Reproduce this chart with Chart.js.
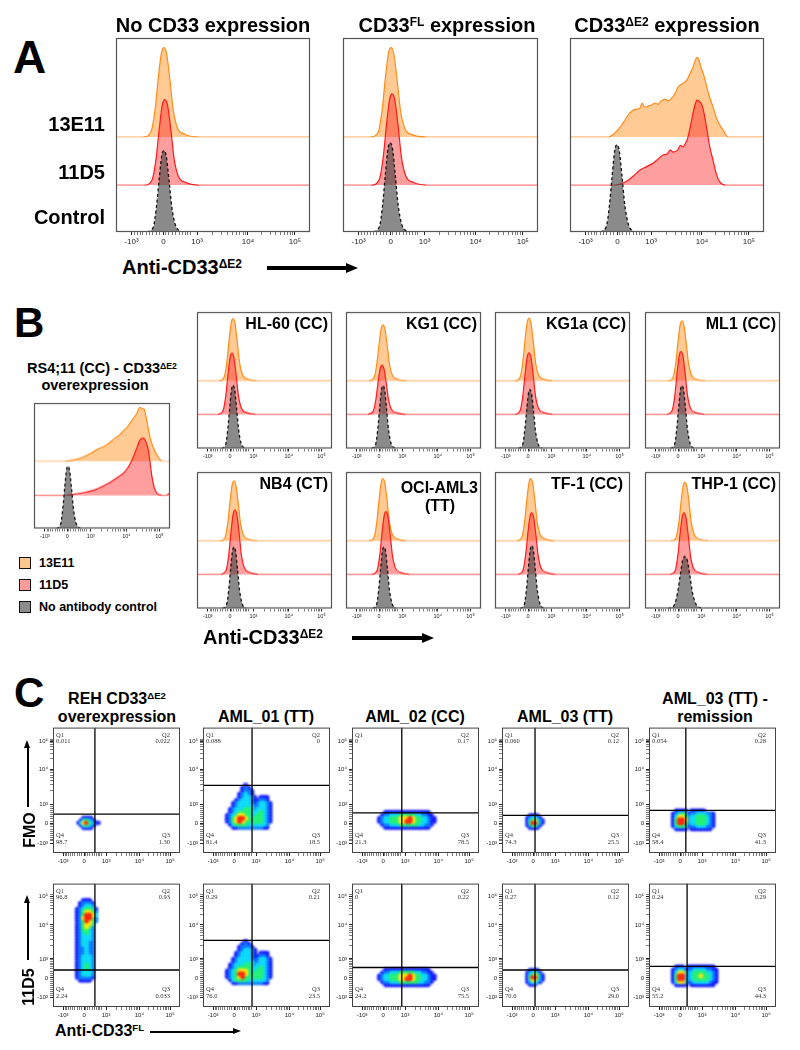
<!DOCTYPE html>
<html>
<head>
<meta charset="utf-8">
<title>CD33 flow cytometry</title>
<script src="https://cdn.jsdelivr.net/npm/chart.js@4.4.1/dist/chart.umd.min.js"></script>
<style>
  html, body { margin: 0; padding: 0; background: #fff; }
  body { position: relative; width: 800px; height: 1050px; overflow: hidden; font-family: "Liberation Sans", Arial, Helvetica, sans-serif; color: #000; }
  .t { position: absolute; font-weight: bold; white-space: nowrap; line-height: 1; }
  .t sup { font-size: 0.6em; vertical-align: baseline; position: relative; top: -0.48em; }
  .plot { position: absolute; }
  .bar { position: absolute; background: #000; }
  .head { position: absolute; width: 0; height: 0; }
  .sq { position: absolute; width: 10px; height: 10px; border: 1.5px solid #111; }
</style>
</head>
<body>
<script>
// ---------- axis ticks (display channels 0-1000, biexponential style) ----------
const tickPos = [80, 245, 418, 680, 922];
const tickPosY = [75, 236, 390, 665, 893];
const tickLbl = ['-10³', '0', '10³', '10⁴', '10⁵'];
const minorPos = [97, 110, 124, 139, 155, 172, 190, 208, 225, 255, 272, 290, 308, 325, 341, 356, 370, 383,
  497, 543, 576, 601, 622, 639, 655, 668, 752, 795, 824, 848, 867, 883, 897, 909];

// ---------- panel A : histograms, [channel, % of mode above the row baseline] ----------
const aTitles = ['No CD33 expression', 'CD33<sup>FL</sup> expression', 'CD33<sup>ΔE2</sup> expression'];
const aRowLabels = ['13E11', '11D5', 'Control'];
const a13E11 = [
  [[142,0],[181,2.8],[201,13.8],[218,30.4],[234,43.2],[247,46],[261,42.8],[278,29.4],[295,13.8],[317,4.6],[355,1.4],[422,0]],
  [[142,0],[181,2.6],[201,14.2],[218,31],[234,43.6],[247,46],[261,42.5],[278,29],[295,13.5],[317,4.4],[355,1.2],[422,0]],
  [[200,0],[225,1.5],[250,4],[273,7.2],[309,12.4],[335,14.2],[361,15],[372,17.5],[385,15.2],[405,16],[420,16.5],[440,17.5],[452,16.8],[470,18.5],[490,19.5],[505,18.6],[530,20.6],[545,23],[557,25.8],[580,27.5],[603,29.4],[620,33],[634,36],[648,40],[657,41],[665,39.5],[675,36],[686,33],[696,29.4],[715,22],[737,15.5],[760,8.5],[789,3.6],[814,0]]
];
const a11D5 = [
  [[147,0],[186,2.6],[206,13.2],[223,29],[239,41.4],[252,44],[266,40.9],[283,28.2],[300,13.2],[322,4.4],[360,1.3],[427,0]],
  [[147,0],[186,2.8],[206,14.1],[223,31],[239,44.2],[252,47],[266,43.7],[283,30.1],[300,14.1],[322,4.7],[360,1.4],[427,0]],
  [[230,0],[250,0.3],[273,1],[300,2.5],[330,5],[361,7.7],[395,9.5],[428,11.3],[455,13.5],[479,15.5],[500,16],[518,18],[531,17],[555,18],[570,20.5],[582,19.6],[598,22],[608,24.7],[620,30],[634,37],[645,41.5],[655,43.8],[668,43],[680,41.2],[693,36],[706,28.4],[720,20],[737,12.9],[755,5.5],[773,1.5],[800,0]]
];
const aControl = [
  [[162,0],[192,2.5],[208,12.6],[223,27.7],[236,39.5],[247,42],[259,39.1],[273,26.9],[288,12.6],[307,3.4],[337,0]],
  [[157,0],[187,2.8],[203,13.8],[218,30.4],[231,43.2],[242,46],[254,42.8],[268,29.4],[283,13.8],[302,3.7],[332,0]],
  [[157,0],[187,2.7],[203,13.5],[218,29.7],[231,42.3],[242,45],[254,41.9],[268,28.8],[283,13.5],[302,3.6],[332,0]]
];

// ---------- panel B ----------
const bBigOrange = [[228,0],[290,1],[360,3.2],[420,6.5],[485,10.4],[520,12],[559,15],[580,17],[603,19],[630,21],[655,24],[684,27],[710,31],[730,34],[755,38],[779,43],[795,42],[809,41.6],[830,32],[853,19],[880,10],[904,5],[925,1.5],[941,0]];
const bBigRed = [[240,0],[300,1],[380,2.5],[436,4],[500,7],[559,10.4],[610,14],[657,17.6],[690,22],[720,28],[750,36],[779,44],[804,45.6],[825,42],[841,36],[855,25],[868,14.4],[885,6],[904,1.6],[940,0],[975,0],[995,1.5]];
const bBigControl = [[165,0],[195,3],[211,14.9],[226,32.7],[239,46.6],[250,49.6],[262,46.1],[276,31.7],[291,14.9],[310,4],[340,0]];
const legendLabels = ['13E11', '11D5', 'No antibody control'];
const cellLines = ['HL-60 (CC)', 'KG1 (CC)', 'KG1a (CC)', 'ML1 (CC)', 'NB4 (CT)', 'OCI-AML3|(TT)', 'TF-1 (CC)', 'THP-1 (CC)'];
const b13E11 = [
  [[162,0],[201,2.7],[221,13.7],[238,30.1],[254,42.9],[267,45.6],[281,42.4],[298,29.2],[315,13.7],[337,4.6],[375,1.4],[442,0]],
  [[169,0],[208,2.5],[228,12.3],[245,27.1],[261,38.5],[274,41],[288,38.1],[305,26.2],[322,12.3],[344,4.1],[382,1.2],[449,0]],
  [[147,0],[186,2.8],[206,13.8],[223,30.4],[239,43.2],[252,46],[266,42.8],[283,29.4],[300,13.8],[322,4.6],[360,1.4],[427,0]],
  [[169,0],[208,2.6],[228,13.2],[245,29],[261,41.4],[274,44],[288,40.9],[305,28.2],[322,13.2],[344,4.4],[382,1.3],[449,0]],
  [[169,0],[208,2.6],[228,13.2],[245,29],[261,41.4],[274,44],[288,40.9],[305,28.2],[322,13.2],[344,4.4],[382,1.3],[449,0]],
  [[169,0],[208,2.7],[228,13.7],[245,30.1],[261,42.9],[274,45.6],[288,42.4],[305,29.2],[322,13.7],[344,4.6],[382,1.4],[449,0]],
  [[160,0],[199,2.7],[219,13.7],[236,30.1],[252,42.9],[265,45.6],[279,42.4],[296,29.2],[313,13.7],[335,4.6],[373,1.4],[440,0]],
  [[191,0],[230,2.6],[250,12.9],[267,28.4],[283,40.4],[296,43],[310,40],[327,27.5],[344,12.9],[366,4.3],[404,1.3],[471,0]]
];
const b11D5 = [
  [[154,0],[193,2.7],[213,13.5],[230,29.6],[246,42.2],[259,44.9],[273,41.8],[290,28.7],[307,13.5],[329,4.5],[367,1.3],[434,0]],
  [[162,0],[201,2.2],[221,10.8],[238,23.8],[254,33.8],[267,36],[281,33.5],[298,23],[315,10.8],[337,3.6],[375,1.1],[442,0]],
  [[147,0],[186,2.7],[206,13.5],[223,29.7],[239,42.3],[252,45],[266,41.9],[283,28.8],[300,13.5],[322,4.5],[360,1.4],[427,0]],
  [[162,0],[201,2.8],[221,13.8],[238,30.4],[254,43.2],[267,46],[281,42.8],[298,29.4],[315,13.8],[337,4.6],[375,1.4],[442,0]],
  [[176,0],[215,2.8],[235,14.1],[252,31],[268,44.2],[281,47],[295,43.7],[312,30.1],[329,14.1],[351,4.7],[389,1.4],[456,0]],
  [[191,0],[230,2.8],[250,13.8],[267,30.4],[283,43.2],[296,46],[310,42.8],[327,29.4],[344,13.8],[366,4.6],[404,1.4],[471,0]],
  [[167,0],[206,2.7],[226,13.5],[243,29.7],[259,42.3],[272,45],[286,41.9],[303,28.8],[320,13.5],[342,4.5],[380,1.4],[447,0]],
  [[184,0],[223,2.7],[243,13.5],[260,29.7],[276,42.3],[289,45],[303,41.9],[320,28.8],[337,13.5],[359,4.5],[397,1.4],[464,0]]
];
const bControl = [
  [[182,0],[212,2.8],[228,13.9],[243,30.6],[256,43.5],[267,46.3],[279,43.1],[293,29.6],[308,13.9],[327,3.7],[357,0]],
  [[189,0],[219,2.8],[235,13.8],[250,30.4],[263,43.2],[274,46],[286,42.8],[300,29.4],[315,13.8],[334,3.7],[364,0]],
  [[174,0],[204,2.6],[220,12.9],[235,28.4],[248,40.4],[259,43],[271,40],[285,27.5],[300,12.9],[319,3.4],[349,0]],
  [[189,0],[219,2.8],[235,13.8],[250,30.4],[263,43.2],[274,46],[286,42.8],[300,29.4],[315,13.8],[334,3.7],[364,0]],
  [[189,0],[219,2.7],[235,13.5],[250,29.7],[263,42.3],[274,45],[286,41.9],[300,28.8],[315,13.5],[334,3.6],[364,0]],
  [[196,0],[226,2.7],[242,13.5],[257,29.7],[270,42.3],[281,45],[293,41.9],[307,28.8],[322,13.5],[341,3.6],[371,0]],
  [[187,0],[217,2.8],[233,13.8],[248,30.4],[261,43.2],[272,46],[284,42.8],[298,29.4],[313,13.8],[332,3.7],[362,0]],
  [[171,0],[216,2.3],[241,11.4],[262,25.1],[280,35.7],[296,38],[313,35.3],[332,24.3],[352,11.4],[378,3],[421,0]]
];

// ---------- panel C : pseudocolor dot plots (plots 0-4 = FMO, 5-9 = 11D5) ----------
const cTitles = ['REH CD33<sup>ΔE2</sup>|overexpression', 'AML_01 (TT)', 'AML_02 (CC)', 'AML_03 (TT)', 'AML_03 (TT) -|remission'];
const cRowLabels = ['FMO', '11D5'];
const gateX = [330, 386, 392, 260, 290, 330, 386, 392, 260, 300];
const gateY = [310, 540, 320, 300, 340, 300, 540, 320, 300, 330];
const quadQ1 = ['0.011', '0.088', '0', '0.060', '0.054', '96.8', '0.29', '0', '0.27', '0.24'];
const quadQ2 = ['0.022', '0', '0.17', '0.12', '0.28', '0.93', '0.21', '0.22', '0.12', '0.29'];
const quadQ3 = ['1.30', '18.5', '78.5', '25.5', '41.3', '0.033', '23.5', '75.5', '29.0', '44.3'];
const quadQ4 = ['98.7', '81.4', '21.3', '74.3', '58.4', '2.24', '76.0', '24.2', '70.6', '55.2'];
// density grids: first cell centre (x, y), cell step, rows top -> bottom, digit = density level 1 (low) .. 6 (high)
const densOrigin = [[200,280],[192,540],[216,324],[200,300],[192,336],[192,864],[192,532],[216,300],[200,300],[192,324]];
const densStep = [20, 24, 24, 20, 24, 24, 24, 24, 20, 24];
const densRows = [
  ['..1111...', '.134321..', '135643211', '.134321..', '..1111...'],
  ['......1........', '.....121.......', '.....1221......', '....12321......', '....123321.111.',
   '...12333211221.', '..1233332123321', '..1233333223321', '.12333443233321', '.12344443334321',
   '123455443344321', '124566543444321', '124565443444321', '.1344443333332.', '..112222222211.'],
  ['..111111111111111..', '.12233344444332211.', '1233444555654433211', '1233444556654433211', '.12233344444433221.', '..111111111111111..'],
  ['.1111..', '123321.', '1345321', '1466421', '124421.', '.1111..'],
  ['.1111.11111...', '12343122333221', '13554233444321', '14665233444321', '14664233444321', '13443122333221', '.1111.1111111.'],
  ['..111..', '.12221.', '.12332.', '1234431', '1245542', '1246653', '1256642', '1246542', '124553.', '124542.',
   '124432.', '123432.', '123332.', '123332.', '123322.', '123322.', '122322.', '122322.', '122322.', '123332.',
   '123332.', '123332.', '123432.', '123432.', '123332.', '123332.', '122221.', '.1111..'],
  ['......1........', '.....121.......', '....12221......', '....123321.....', '...1233321.111.',
   '...12333211221.', '..1233332123321', '..1233333223321', '.12333443233321', '.12344443334321',
   '123455543344321', '123466543444321', '123456443444321', '.1344443333332.', '..112222222211.'],
  ['..111111111111111..', '.12233344444332211.', '1233444555654433211', '1233444556654433211', '.12233344444433221.', '..111111111111111..'],
  ['.1111..', '123321.', '1345421', '1466421', '1355321', '123321.', '.111...'],
  ['.111.111111111.', '123312233332211', '135532344443321', '146632344544321', '146632344444321', '135531233333211', '.1111.11111111.']
];
const jet = ['#0a10ff', '#0072ff', '#00d8f8', '#18f070', '#ffe600', '#ff1a00'];

// ---------- helpers ----------
Chart.defaults.font.family = '"Liberation Sans", Arial, sans-serif';
Chart.defaults.color = '#222';

function txt(html, x, y, size, align, extra) {
  const d = document.createElement('div');
  d.className = 't';
  d.innerHTML = html;
  const tx = align === 'l' ? '0' : align === 'r' ? '-100%' : '-50%';
  d.style.cssText = 'left:' + x + 'px;top:' + y + 'px;font-size:' + size + 'px;transform:translate(' + tx + ',-50%)' + (extra || '');
  document.body.appendChild(d);
}
function el(cls, css) {
  const d = document.createElement('div');
  d.className = cls;
  d.style.cssText = css;
  document.body.appendChild(d);
}
function hArrow(x1, x2, y, w, h) {
  el('bar', 'left:' + x1 + 'px;top:' + (y - w / 2) + 'px;width:' + (x2 - x1 - h + 1) + 'px;height:' + w + 'px');
  el('head', 'left:' + (x2 - h) + 'px;top:' + (y - h * 0.45) + 'px;border-left:' + h + 'px solid #000;border-top:' + (h * 0.45) + 'px solid transparent;border-bottom:' + (h * 0.45) + 'px solid transparent');
}
function vArrow(x, y1, y2, w, h) {
  el('bar', 'left:' + (x - w / 2) + 'px;top:' + (y2 + h - 1) + 'px;width:' + w + 'px;height:' + (y1 - y2 - h + 1) + 'px');
  el('head', 'left:' + (x - h * 0.45) + 'px;top:' + y2 + 'px;border-bottom:' + h + 'px solid #000;border-left:' + (h * 0.45) + 'px solid transparent;border-right:' + (h * 0.45) + 'px solid transparent');
}
function mkCanvas(left, top, w, h) {
  const wrap = document.createElement('div');
  wrap.className = 'plot';
  wrap.style.cssText = 'left:' + left + 'px;top:' + top + 'px;width:' + w + 'px;height:' + h + 'px';
  const cv = document.createElement('canvas');
  cv.width = w; cv.height = h;
  cv.style.width = w + 'px'; cv.style.height = h + 'px';
  wrap.appendChild(cv);
  document.body.appendChild(wrap);
  return cv;
}
function makeTicks(major) {
  const t = major.map((v, i) => ({ value: v, lbl: tickLbl[i] }));
  minorPos.forEach(v => t.push({ value: v, lbl: '' }));
  return t.sort((a, b) => a.value - b.value);
}
function axis(major, size, fit) {
  return {
    type: 'linear', min: 0, max: 1000,
    afterFit: fit,
    afterBuildTicks: s => { s.ticks = makeTicks(major); },
    ticks: { autoSkip: false, maxRotation: 0, padding: 2, font: { size: size }, color: '#222', callback: (v, i, t) => t[i].lbl },
    grid: { drawOnChartArea: false, tickLength: 3, color: '#222', tickWidth: c => (c.tick && c.tick.lbl ? 1 : 0.6) },
    border: { display: false }
  };
}

const framePlugin = {
  id: 'frame',
  afterDraw(chart, args, o) {
    const { ctx, chartArea: a } = chart;
    ctx.save();
    ctx.strokeStyle = o.color || '#555';
    ctx.lineWidth = o.width || 1;
    ctx.strokeRect(a.left + 0.5, a.top + 0.5, a.width - 1, a.height - 1);
    ctx.restore();
  }
};
const blurPlugin = {
  id: 'blur',
  beforeDatasetDraw(chart, args) {
    if (chart.data.datasets[args.index].blur) { chart.ctx.save(); chart.ctx.filter = 'blur(1.1px)'; }
  },
  afterDatasetDraw(chart, args) {
    if (chart.data.datasets[args.index].blur) { chart.ctx.restore(); }
  }
};
const quadPlugin = {
  id: 'quad',
  afterDraw(chart, args, o) {
    const { ctx, chartArea: a } = chart;
    ctx.save();
    ctx.fillStyle = '#333';
    ctx.font = '6.5px "Liberation Serif", serif';
    ctx.textBaseline = 'middle';
    ctx.textAlign = 'left';
    ctx.fillText('Q1', a.left + 3, a.top + 8);
    ctx.fillText(o.q[0], a.left + 3, a.top + 14);
    ctx.fillText('Q4', a.left + 3, a.bottom - 18);
    ctx.fillText(o.q[3], a.left + 3, a.bottom - 11);
    ctx.textAlign = 'right';
    ctx.fillText('Q2', a.right - 10, a.top + 8);
    ctx.fillText(o.q[1], a.right - 10, a.top + 14);
    ctx.fillText('Q3', a.right - 10, a.bottom - 18);
    ctx.fillText(o.q[2], a.right - 10, a.bottom - 11);
    ctx.restore();
  }
};

// stacked offset histogram: orange (13E11), red (11D5), grey dashed (control)
function histChart(box, orange, red, grey, bases, fontSize) {
  const padL = 14, padR = 14, padT = 4, axisH = fontSize + 10;
  const cv = mkCanvas(box[0] - padL, box[1] - padT, box[2] + padL + padR, box[3] + padT + axisH);
  const lift = (pts, b, ends) => {
    const d = pts.map(p => ({ x: p[0], y: p[1] + b }));
    if (ends) { d.unshift({ x: 0, y: b }); d.push({ x: 1000, y: b }); }
    return d;
  };
  const seg = (b, light, strong) => ({ borderColor: c => (c.p0.parsed.y === b && c.p1.parsed.y === b ? light : strong) });
  new Chart(cv, {
    type: 'line',
    data: {
      datasets: [
        { data: lift(grey, bases[2], false), borderColor: '#111', borderDash: [3, 2.5], borderWidth: 1.3,
          backgroundColor: 'rgba(60,60,60,0.6)', fill: { value: bases[2] } },
        { data: lift(red, bases[1], true), borderColor: '#ff1a1a', borderWidth: 1.2, segment: seg(bases[1], '#ff7a7a', '#ff1a1a'),
          backgroundColor: 'rgba(255,40,40,0.45)', fill: { value: bases[1] } },
        { data: lift(orange, bases[0], true), borderColor: '#ff8c1a', borderWidth: 1.2, segment: seg(bases[0], '#ffbe80', '#ff8c1a'),
          backgroundColor: 'rgba(255,150,40,0.5)', fill: { value: bases[0] } }
      ]
    },
    options: {
      responsive: false, animation: false, devicePixelRatio: 1, events: [],
      layout: { padding: { left: padL, right: padR, top: padT, bottom: 0 } },
      elements: { point: { radius: 0 }, line: { cubicInterpolationMode: 'monotone' } },
      plugins: { legend: { display: false }, tooltip: { enabled: false }, frame: { color: '#555', width: 1.2 } },
      scales: {
        x: axis(tickPos, fontSize, s => { s.height = axisH; }),
        y: { display: false, min: 0, max: 100 }
      }
    },
    plugins: [framePlugin]
  });
}

function densChart(box, k) {
  const yW = 22, padT = 3, padR = 6, xH = 14;
  const cv = mkCanvas(box[0] - yW, box[1] - padT, yW + box[2] + padR, padT + box[3] + xH);
  const pts = [];
  const ox = densOrigin[k][0], oy = densOrigin[k][1], st = densStep[k];
  densRows[k].forEach((row, i) => {
    for (let j = 0; j < row.length; j++) {
      const lv = parseInt(row[j], 10);
      if (lv > 0) pts.push({ x: ox + j * st, y: oy - i * st, v: lv });
    }
  });
  pts.sort((a, b) => a.v - b.v);
  const r = st * box[2] / 1000 * 0.8;
  new Chart(cv, {
    type: 'scatter',
    data: {
      datasets: [
        { data: [{ x: gateX[k], y: 0 }, { x: gateX[k], y: 1000 }], showLine: true, borderColor: '#000', borderWidth: 1.3, pointRadius: 0 },
        { data: [{ x: 0, y: gateY[k] }, { x: 1000, y: gateY[k] }], showLine: true, borderColor: '#000', borderWidth: 1.3, pointRadius: 0 },
        { data: pts, blur: true, pointRadius: r, pointBorderWidth: 0, pointHoverRadius: r,
          pointBackgroundColor: c => jet[(c.raw ? c.raw.v : 1) - 1] }
      ]
    },
    options: {
      responsive: false, animation: false, devicePixelRatio: 1, events: [],
      layout: { padding: { left: 0, right: padR, top: padT, bottom: 0 } },
      plugins: { legend: { display: false }, tooltip: { enabled: false }, frame: { color: '#444', width: 1 },
        quad: { q: [quadQ1[k], quadQ2[k], quadQ3[k], quadQ4[k]] } },
      scales: {
        x: axis(tickPos, 6, s => { s.height = xH; }),
        y: axis(tickPosY, 6, s => { s.width = yW; })
      }
    },
    plugins: [framePlugin, blurPlugin, quadPlugin]
  });
}

// ---------- panel A ----------
const aBoxes = [[116, 38, 194, 194], [343, 38, 195, 194], [570, 38, 194, 194]];
const aTitleX = [213, 447, 667];
txt('A', 13, 57, 46, 'l');
aBoxes.forEach((b, i) => {
  histChart(b, a13E11[i], a11D5[i], aControl[i], [49, 24.2, 0], 8);
  txt(aTitles[i], aTitleX[i], 25, 20);
});
[124, 172, 217].forEach((y, i) => txt(aRowLabels[i], 105, y, 20, 'r'));
txt('Anti-CD33<sup>ΔE2</sup>', 122, 267, 20, 'l');
hArrow(267, 358, 268, 4, 12);

// ---------- panel B ----------
txt('B', 14, 323, 42, 'l');
txt('RS4;11 (CC) - CD33<sup>ΔE2</sup>', 102, 368, 14.5);
txt('overexpression', 95, 385, 14.5);
histChart([34, 403, 136, 125], bBigOrange, bBigRed, bBigControl, [53.6, 26.4, 0], 5.5);
const legendColors = ['#fdc68c', '#ff9c9c', '#8c8c8c'];
[563, 585, 607].forEach((y, i) => {
  el('sq', 'left:19px;top:' + (y - 6.5) + 'px;background:' + legendColors[i]);
  txt(legendLabels[i], 39, y, 12.5, 'l');
});
const bCols = [197, 346, 495, 645];
const bRows = [312, 472];
cellLines.forEach((name, i) => {
  const box = [bCols[i % 4], bRows[Math.floor(i / 4)], 135, 136];
  histChart(box, b13E11[i], b11D5[i], bControl[i], [49.5, 25, 0], 5.5);
  const parts = name.split('|');
  if (parts.length === 1) {
    txt(parts[0], box[0] + box[2] - (i === 6 ? 7 : 4), box[1] + 12, 16, 'r');
  } else {
    txt(parts[0], box[0] + box[2] - 3, box[1] + 16, 16, 'r');
    txt(parts[1], box[0] + 94, box[1] + 34, 16);
  }
});
txt('Anti-CD33<sup>ΔE2</sup>', 203, 637, 20, 'l');
hArrow(352, 434, 638, 4, 12);

// ---------- panel C ----------
txt('C', 14, 693, 42, 'l');
const cCols = [53, 203, 352, 502, 649];
const cRowsY = [[725, 128], [881, 126]];
const cTitleX = [117, 266, 415, 565, 715];
cTitles.forEach((t, i) => {
  const parts = t.split('|');
  if (parts.length === 2) {
    txt(parts[0], cTitleX[i], 699, 16);
    txt(parts[1], cTitleX[i], 717, 16);
  } else {
    txt(parts[0], cTitleX[i], 717, 16);
  }
});
for (let r = 0; r < 2; r++) {
  for (let c = 0; c < 5; c++) {
    densChart([cCols[c], cRowsY[r][0], 127, cRowsY[r][1]], r * 5 + c);
  }
}
txt(cRowLabels[0], 30, 830, 16, 'c', ';transform:translate(-50%,-50%) rotate(-90deg)');
vArrow(28, 807, 740, 2, 8);
txt(cRowLabels[1], 29, 987, 16, 'c', ';transform:translate(-50%,-50%) rotate(-90deg)');
vArrow(28, 960, 895, 2, 8);
txt('Anti-CD33<sup>FL</sup>', 55, 1031, 16, 'l');
hArrow(150, 241, 1032, 2, 8);
</script>
</body>
</html>
